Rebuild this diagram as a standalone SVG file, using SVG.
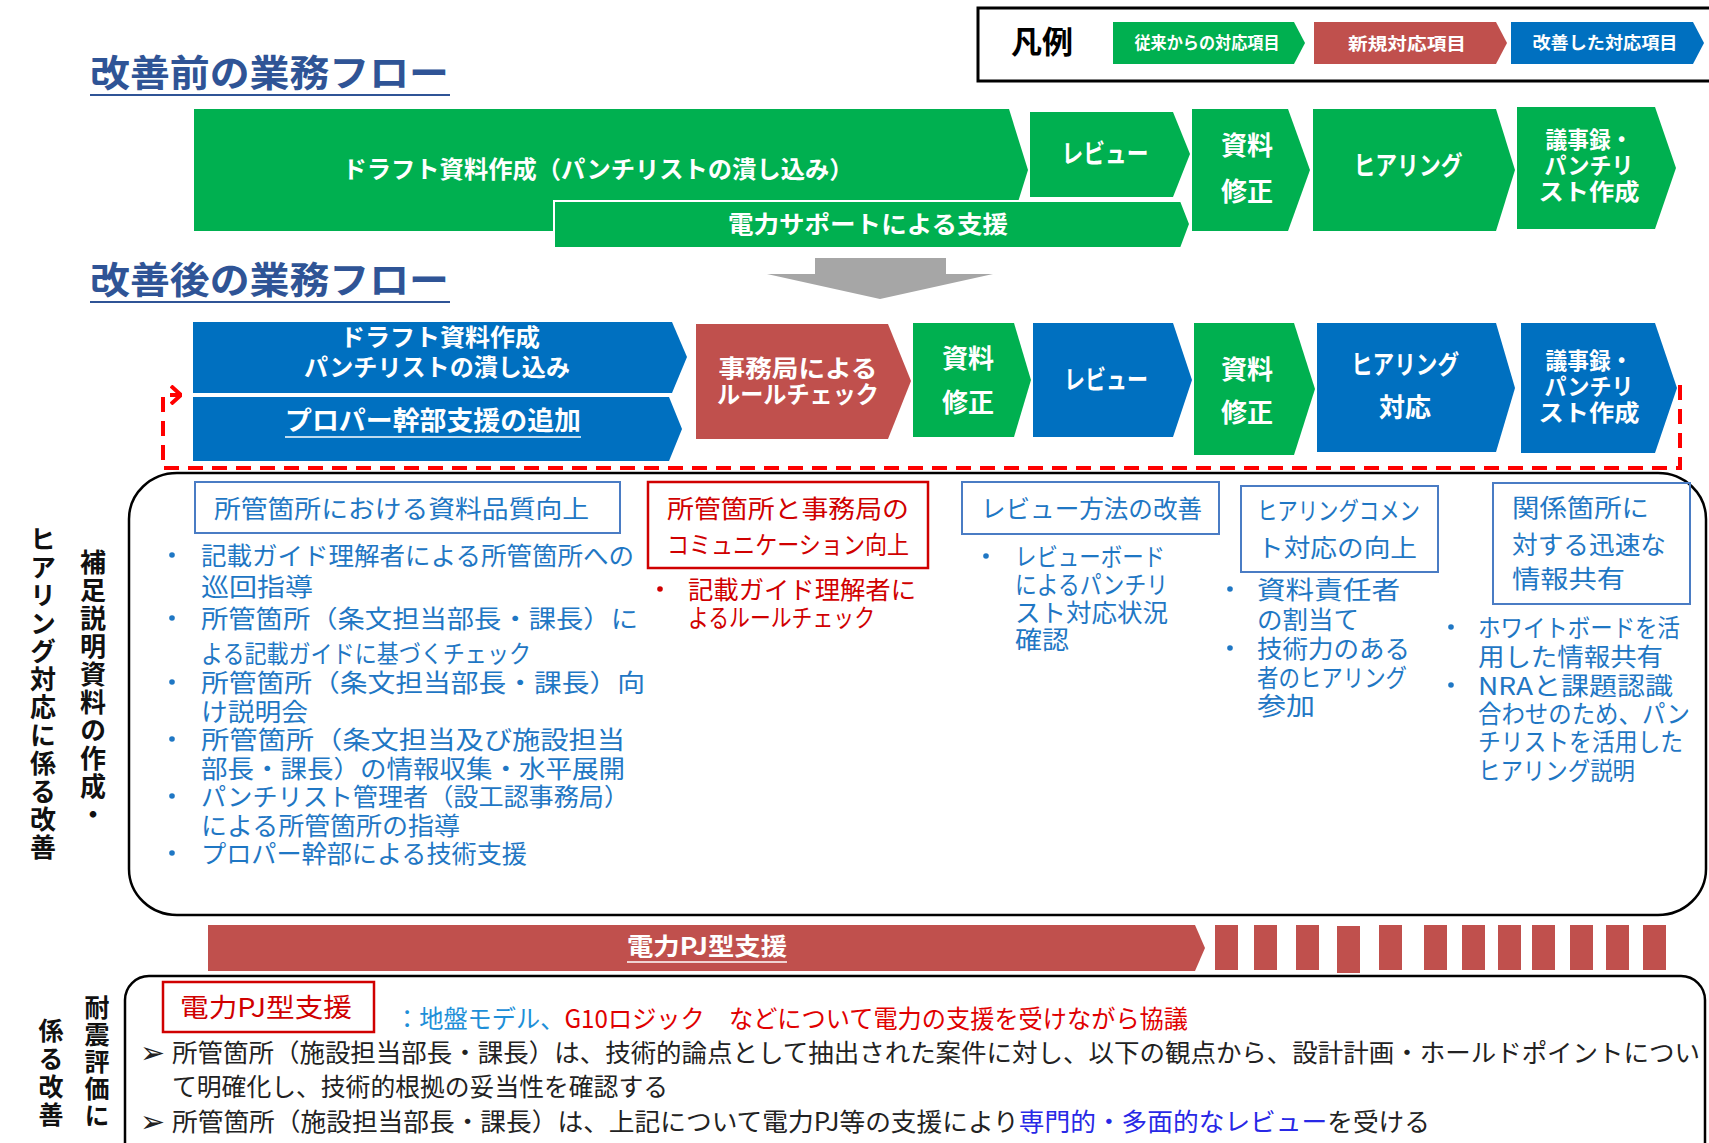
<svg xmlns="http://www.w3.org/2000/svg" width="1709" height="1143" viewBox="0 0 1709 1143">
<style>
text { font-family: "Noto Sans CJK JP", "Noto Sans", sans-serif; }
.bd { font-weight: bold; }
.w { fill: #ffffff; }
.m { text-anchor: middle; }
.green { fill: #00B050; }
.blue { fill: #0070C0; }
.red { fill: #C0504D; }
.f24 { font-size: 24px; }
.f26 { font-size: 26px; }
.f23 { font-size: 23px; }
.title { font-size: 37px; font-weight: bold; fill: #2F5496; }
.leg { font-size: 17px; font-weight: bold; fill: #ffffff; text-anchor: middle; }
.bt { font-size: 24.5px; fill: #1F77C4; }
.rt { font-size: 24.5px; fill: #D00000; }
.hb { fill: none; stroke: #4A7CC4; stroke-width: 2; }
.hr { fill: none; stroke: #D00000; stroke-width: 2.5; }
.dotb { fill: #1F77C4; }
.dotr { fill: #D00000; }
.vt { writing-mode: vertical-rl; font-weight: bold; fill: #111; }
.kt { font-size: 25px; fill: #222; }
.arr { font-family: "DejaVu Sans", sans-serif; font-size: 30px; fill: #222; }
</style>
<defs>
<marker id="openhead" viewBox="0 0 12 20" refX="11" refY="10" markerWidth="12" markerHeight="20" markerUnits="userSpaceOnUse" orient="auto">
<polyline points="1,1 11,10 1,19" fill="none" stroke="#FF0000" stroke-width="4"/>
</marker>
</defs>
<rect x="0" y="0" width="1709" height="1143" fill="#ffffff"/>

<!-- titles -->
<g id="title-before">
<text class="title" x="90" y="87" textLength="359" lengthAdjust="spacingAndGlyphs">改善前の業務フロー</text>
<line x1="90" y1="95" x2="450" y2="95" stroke="#2F5496" stroke-width="2"/>
</g>
<g id="title-after">
<text class="title" x="90" y="294" textLength="359" lengthAdjust="spacingAndGlyphs">改善後の業務フロー</text>
<line x1="90" y1="302" x2="450" y2="302" stroke="#2F5496" stroke-width="2"/>
</g>

<!-- legend -->
<g id="legend">
<rect x="978" y="8" width="745" height="73" fill="none" stroke="#000" stroke-width="3"/>
<text class="bd" x="1042" y="53" font-size="31" text-anchor="middle" fill="#000">凡例</text>
<polygon class="green" points="1113,22 1294,22 1305,43 1294,64 1113,64"/>
<text class="leg" x="1207" y="49" textLength="145" lengthAdjust="spacingAndGlyphs">従来からの対応項目</text>
<polygon class="red" points="1314,22 1496,22 1507,43 1496,64 1314,64"/>
<text class="leg" x="1407" y="50" font-size="19" textLength="118" lengthAdjust="spacingAndGlyphs">新規対応項目</text>
<polygon class="blue" points="1511,22 1693,22 1704,43 1693,64 1511,64"/>
<text class="leg" x="1605" y="49" textLength="145" lengthAdjust="spacingAndGlyphs">改善した対応項目</text>
</g>

<!-- before flow -->
<g id="b-draft">
<polygon class="green" points="194,109 1009,109 1028,170 1009,231 194,231"/>
<text class="bd w m f24" x="598" y="178" textLength="511" lengthAdjust="spacingAndGlyphs">ドラフト資料作成（パンチリストの潰し込み）</text>
</g>
<g id="b-support">
<polygon class="green" points="554,201 1181,201 1190,224 1181,248 554,248" stroke="#ffffff" stroke-width="2"/>
<text class="bd w m f24" x="868" y="233" textLength="280" lengthAdjust="spacingAndGlyphs">電力サポートによる支援</text>
</g>
<g id="b-review">
<polygon class="green" points="1030,112 1173,112 1190,154 1173,197 1030,197"/>
<text class="bd w m f26" x="1105" y="163" textLength="87" lengthAdjust="spacingAndGlyphs">レビュー</text>
</g>
<g id="b-fix">
<polygon class="green" points="1192,109 1288,109 1310,170 1288,231 1192,231"/>
<text class="bd w m f26" x="1247" y="155">資料</text>
<text class="bd w m f26" x="1247" y="201">修正</text>
</g>
<g id="b-hearing">
<polygon class="green" points="1313,109 1496,109 1515,170 1496,231 1313,231"/>
<text class="bd w m f26" x="1408" y="175" textLength="109" lengthAdjust="spacingAndGlyphs">ヒアリング</text>
</g>
<g id="b-minutes">
<polygon class="green" points="1517,107 1655,107 1676,168 1655,229 1517,229"/>
<text class="bd w m f23" x="1589" y="148" textLength="87" lengthAdjust="spacingAndGlyphs">議事録・</text>
<text class="bd w m f23" x="1589" y="174" textLength="89" lengthAdjust="spacingAndGlyphs">パンチリ</text>
<text class="bd w m f23" x="1589" y="200" textLength="101" lengthAdjust="spacingAndGlyphs">スト作成</text>
</g>

<!-- after flow -->
<g id="a-draft">
<polygon class="blue" points="193,322 672,322 687,357 672,393 193,393"/>
<text class="bd w m f24" x="440" y="346" textLength="200" lengthAdjust="spacingAndGlyphs">ドラフト資料作成</text>
<text class="bd w m f24" x="437" y="376" textLength="266" lengthAdjust="spacingAndGlyphs">パンチリストの潰し込み</text>
</g>
<g id="a-proper">
<polygon class="blue" points="193,397 669,397 682,429 669,461 193,461"/>
<text class="bd w m f26" x="433" y="430" textLength="296" lengthAdjust="spacingAndGlyphs">プロパー幹部支援の追加</text>
<line x1="285" y1="437" x2="581" y2="437" stroke="#ffffff" stroke-width="1.5"/>
</g>
<g id="a-rulecheck">
<polygon class="red" points="696,324 888,324 911,381 888,439 696,439"/>
<text class="bd w m f24" x="798" y="377" textLength="159" lengthAdjust="spacingAndGlyphs">事務局による</text>
<text class="bd w m f24" x="798" y="403" textLength="162" lengthAdjust="spacingAndGlyphs">ルールチェック</text>
</g>
<g id="a-fix1">
<polygon class="green" points="913,323 1014,323 1031,380 1014,437 913,437"/>
<text class="bd w m f26" x="968" y="368">資料</text>
<text class="bd w m f26" x="968" y="412">修正</text>
</g>
<g id="a-review">
<polygon class="blue" points="1033,323 1173,323 1192,380 1173,437 1033,437"/>
<text class="bd w m f26" x="1106" y="389" textLength="84" lengthAdjust="spacingAndGlyphs">レビュー</text>
</g>
<g id="a-fix2">
<polygon class="green" points="1194,323 1294,323 1315,389 1294,455 1194,455"/>
<text class="bd w m f26" x="1247" y="379">資料</text>
<text class="bd w m f26" x="1247" y="422">修正</text>
</g>
<g id="a-hearing">
<polygon class="blue" points="1317,323 1496,323 1515,388 1496,452 1317,452"/>
<text class="bd w m f26" x="1405" y="374" textLength="108" lengthAdjust="spacingAndGlyphs">ヒアリング</text>
<text class="bd w m f26" x="1405" y="417">対応</text>
</g>
<g id="a-minutes">
<polygon class="blue" points="1521,323 1655,323 1677,388 1655,453 1521,453"/>
<text class="bd w m f23" x="1589" y="369" textLength="87" lengthAdjust="spacingAndGlyphs">議事録・</text>
<text class="bd w m f23" x="1589" y="395" textLength="89" lengthAdjust="spacingAndGlyphs">パンチリ</text>
<text class="bd w m f23" x="1589" y="421" textLength="101" lengthAdjust="spacingAndGlyphs">スト作成</text>
</g>

<!-- connectors -->
<g id="connectors">
<polygon points="815,258 946,258 946,274 993,274 880,299 767,274 815,274" fill="#A6A6A6"/>
<path d="M1680,385 V468 H163 V395 H181" fill="none" stroke="#FF0000" stroke-width="4" stroke-dasharray="15 9" marker-end="url(#openhead)"/>
</g>

<!-- improvements section -->
<g id="improve-label">
<text class="vt" x="93" y="549" font-size="26" letter-spacing="2">補足説明資料の作成・</text>
<text class="vt" x="43" y="526" font-size="26" letter-spacing="2">ヒアリング対応に係る改善</text>
</g>
<g id="improve-frame">
<rect x="129" y="473" width="1577" height="442" rx="48" ry="46" fill="none" stroke="#000" stroke-width="2.5"/>
</g>
<g id="quality">
<rect class="hb" x="195" y="482" width="425" height="51"/>
<text class="bt" x="214" y="518" textLength="375" lengthAdjust="spacingAndGlyphs">所管箇所における資料品質向上</text>
<circle class="dotb" cx="172" cy="555" r="2.8"/>
<circle class="dotb" cx="172" cy="618" r="2.8"/>
<circle class="dotb" cx="172" cy="682" r="2.8"/>
<circle class="dotb" cx="172" cy="739" r="2.8"/>
<circle class="dotb" cx="172" cy="796" r="2.8"/>
<circle class="dotb" cx="172" cy="853" r="2.8"/>
<text class="bt" x="201" y="565" textLength="433" lengthAdjust="spacingAndGlyphs">記載ガイド理解者による所管箇所への</text>
<text class="bt" x="201" y="596" textLength="112" lengthAdjust="spacingAndGlyphs">巡回指導</text>
<text class="bt" x="201" y="628" textLength="437" lengthAdjust="spacingAndGlyphs">所管箇所（条文担当部長・課長）に</text>
<text class="bt" x="201" y="663" textLength="330" lengthAdjust="spacingAndGlyphs">よる記載ガイドに基づくチェック</text>
<text class="bt" x="201" y="692" textLength="444" lengthAdjust="spacingAndGlyphs">所管箇所（条文担当部長・課長）向</text>
<text class="bt" x="201" y="721" textLength="107" lengthAdjust="spacingAndGlyphs">け説明会</text>
<text class="bt" x="201" y="749" textLength="424" lengthAdjust="spacingAndGlyphs">所管箇所（条文担当及び施設担当</text>
<text class="bt" x="201" y="778" textLength="424" lengthAdjust="spacingAndGlyphs">部長・課長）の情報収集・水平展開</text>
<text class="bt" x="201" y="806" textLength="428" lengthAdjust="spacingAndGlyphs">パンチリスト管理者（設工認事務局）</text>
<text class="bt" x="201" y="835" textLength="259" lengthAdjust="spacingAndGlyphs">による所管箇所の指導</text>
<text class="bt" x="201" y="863" textLength="326" lengthAdjust="spacingAndGlyphs">プロパー幹部による技術支援</text>
</g>
<g id="communication">
<rect class="hr" x="648" y="482" width="280" height="86"/>
<text class="rt" x="667" y="518" textLength="242" lengthAdjust="spacingAndGlyphs">所管箇所と事務局の</text>
<text class="rt" x="667" y="554" textLength="242" lengthAdjust="spacingAndGlyphs">コミュニケーション向上</text>
<circle class="dotr" cx="660" cy="589" r="2.8"/>
<text class="rt" x="688" y="599" textLength="228" lengthAdjust="spacingAndGlyphs">記載ガイド理解者に</text>
<text class="rt" x="688" y="627" textLength="187" lengthAdjust="spacingAndGlyphs">よるルールチェック</text>
</g>
<g id="review-method">
<rect class="hb" x="962" y="482" width="257" height="52"/>
<text class="bt" x="981" y="518" textLength="221" lengthAdjust="spacingAndGlyphs">レビュー方法の改善</text>
<circle class="dotb" cx="986" cy="556" r="2.8"/>
<text class="bt" x="1015" y="566" textLength="150" lengthAdjust="spacingAndGlyphs">レビューボード</text>
<text class="bt" x="1015" y="594" textLength="153" lengthAdjust="spacingAndGlyphs">によるパンチリ</text>
<text class="bt" x="1015" y="622" textLength="153" lengthAdjust="spacingAndGlyphs">スト対応状況</text>
<text class="bt" x="1015" y="649" textLength="54" lengthAdjust="spacingAndGlyphs">確認</text>
</g>
<g id="hearing-comment">
<rect class="hb" x="1241" y="486" width="197" height="86"/>
<text class="bt" x="1257" y="520" textLength="163" lengthAdjust="spacingAndGlyphs">ヒアリングコメン</text>
<text class="bt" x="1257" y="557" textLength="160" lengthAdjust="spacingAndGlyphs">ト対応の向上</text>
<circle class="dotb" cx="1230" cy="589" r="2.8"/>
<circle class="dotb" cx="1230" cy="648" r="2.8"/>
<text class="bt" x="1257" y="599" textLength="143" lengthAdjust="spacingAndGlyphs">資料責任者</text>
<text class="bt" x="1257" y="629" textLength="102" lengthAdjust="spacingAndGlyphs">の割当て</text>
<text class="bt" x="1257" y="658" textLength="153" lengthAdjust="spacingAndGlyphs">技術力のある</text>
<text class="bt" x="1257" y="687" textLength="150" lengthAdjust="spacingAndGlyphs">者のヒアリング</text>
<text class="bt" x="1257" y="715" textLength="58" lengthAdjust="spacingAndGlyphs">参加</text>
</g>
<g id="info-share">
<rect class="hb" x="1493" y="483" width="197" height="121"/>
<text class="bt" x="1512" y="517" textLength="137" lengthAdjust="spacingAndGlyphs">関係箇所に</text>
<text class="bt" x="1512" y="554" textLength="154" lengthAdjust="spacingAndGlyphs">対する迅速な</text>
<text class="bt" x="1512" y="588" textLength="113" lengthAdjust="spacingAndGlyphs">情報共有</text>
<circle class="dotb" cx="1451" cy="627" r="2.8"/>
<circle class="dotb" cx="1451" cy="685" r="2.8"/>
<text class="bt" x="1478" y="637" textLength="202" lengthAdjust="spacingAndGlyphs">ホワイトボードを活</text>
<text class="bt" x="1478" y="666" textLength="185" lengthAdjust="spacingAndGlyphs">用した情報共有</text>
<text class="bt" x="1478" y="695" textLength="195" lengthAdjust="spacingAndGlyphs">NRAと課題認識</text>
<text class="bt" x="1478" y="723" textLength="212" lengthAdjust="spacingAndGlyphs">合わせのため、パン</text>
<text class="bt" x="1478" y="751" textLength="205" lengthAdjust="spacingAndGlyphs">チリストを活用した</text>
<text class="bt" x="1478" y="780" textLength="157" lengthAdjust="spacingAndGlyphs">ヒアリング説明</text>
</g>

<!-- PJ support bar -->
<g id="pj-bar">
<polygon class="red" points="208,925 1195,925 1205,948 1195,971 208,971"/>
<text class="bd w m f24" x="707" y="955" textLength="160" lengthAdjust="spacingAndGlyphs">電力PJ型支援</text>
<line x1="627" y1="962" x2="787" y2="962" stroke="#ffffff" stroke-width="1.5"/>
<rect class="red" x="1215" y="925" width="23" height="45"/>
<rect class="red" x="1254" y="925" width="23" height="45"/>
<rect class="red" x="1296" y="925" width="23" height="45"/>
<rect class="red" x="1337" y="926" width="23" height="47"/>
<rect class="red" x="1379" y="925" width="23" height="45"/>
<rect class="red" x="1424" y="925" width="23" height="45"/>
<rect class="red" x="1462" y="925" width="23" height="45"/>
<rect class="red" x="1498" y="925" width="23" height="45"/>
<rect class="red" x="1532" y="925" width="23" height="45"/>
<rect class="red" x="1570" y="925" width="23" height="45"/>
<rect class="red" x="1606" y="925" width="23" height="45"/>
<rect class="red" x="1643" y="925" width="23" height="45"/>
</g>

<!-- seismic section -->
<g id="seismic-label">
<text class="vt" x="97" y="995" font-size="25" letter-spacing="2">耐震評価に</text>
<text class="vt" x="51" y="1018" font-size="25" letter-spacing="3">係る改善</text>
</g>
<g id="seismic-frame">
<rect x="125" y="976" width="1580" height="220" rx="24" ry="24" fill="none" stroke="#000" stroke-width="2.5"/>
</g>
<g id="seismic">
<rect class="hr" x="163" y="982" width="211" height="50"/>
<text class="m" x="266" y="1017" font-size="26" fill="#D00000" textLength="172" lengthAdjust="spacingAndGlyphs">電力PJ型支援</text>
<text x="395" y="1028" font-size="25" textLength="793" lengthAdjust="spacingAndGlyphs"><tspan fill="#1E8FD8">：地盤モデル、</tspan><tspan fill="#E00000">G10ロジック　などについて電力の支援を受けながら協議</tspan></text>
<text class="arr" x="140" y="1063">➢</text>
<text class="kt" x="172" y="1062" textLength="1528" lengthAdjust="spacingAndGlyphs">所管箇所（施設担当部長・課長）は、技術的論点として抽出された案件に対し、以下の観点から、設計計画・ホールドポイントについ</text>
<text class="kt" x="172" y="1096" textLength="496" lengthAdjust="spacingAndGlyphs">て明確化し、技術的根拠の妥当性を確認する</text>
<text class="arr" x="140" y="1132">➢</text>
<text class="kt" x="172" y="1131" textLength="1258" lengthAdjust="spacingAndGlyphs">所管箇所（施設担当部長・課長）は、上記について電力PJ等の支援により<tspan fill="#2828E6">専門的・多面的なレビュー</tspan>を受ける</text>
</g>
</svg>
